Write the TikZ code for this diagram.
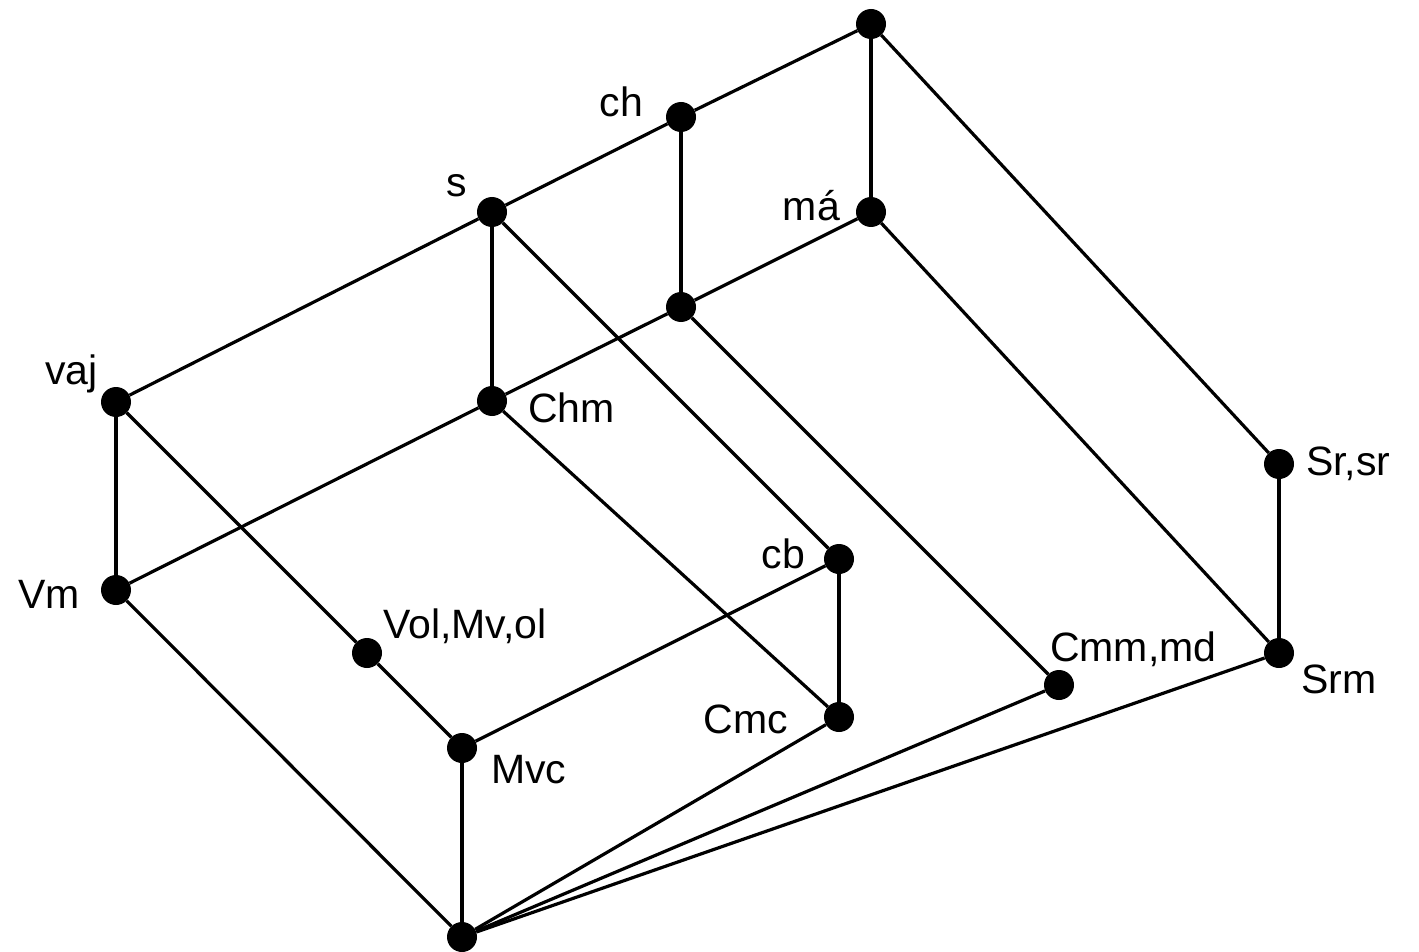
\documentclass[tikz,border=0pt]{standalone}
\usepackage{fontspec}
\setmainfont{Liberation Sans}
\begin{document}
\begin{tikzpicture}[x=1pt,y=-1pt,
  dot/.style={circle,fill=black,draw=none,minimum size=30pt,inner sep=0pt},
  edge/.style={line width=3.2pt,black},
  lbl/.style={inner sep=0pt,font=\fontsize{41}{49}\selectfont}]
\useasboundingbox (0,0) rectangle (1419,952);
% dots
\node[dot] (top) at (871,24) {};
\node[dot] (ch) at (681,117) {};
\node[dot] (s) at (492,212) {};
\node[dot] (ma) at (871,212) {};
\node[dot] (mid) at (681,307) {};
\node[dot] (vaj) at (116,402) {};
\node[dot] (Chm) at (492,401) {};
\node[dot] (Sr) at (1279,464) {};
\node[dot] (cb) at (839,559) {};
\node[dot] (Vm) at (116,590) {};
\node[dot] (Vol) at (367,653) {};
\node[dot] (Srm) at (1279,653) {};
\node[dot] (Cmm) at (1059,685) {};
\node[dot] (Cmc) at (839,717) {};
\node[dot] (Mvc) at (462,748) {};
\node[dot] (bot) at (462,937) {};
% edges
\draw[edge] (top) -- (ch);
\draw[edge] (ch) -- (s);
\draw[edge] (s) -- (vaj);
\draw[edge] (top) -- (ma);
\draw[edge] (top) -- (Sr);
\draw[edge] (ch) -- (mid);
\draw[edge] (s) -- (Chm);
\draw[edge] (s) -- (cb);
\draw[edge] (ma) -- (mid);
\draw[edge] (mid) -- (Chm);
\draw[edge] (Chm) -- (Vm);
\draw[edge] (ma) -- (Srm);
\draw[edge] (mid) -- (Cmm);
\draw[edge] (vaj) -- (Vm);
\draw[edge] (vaj) -- (Vol);
\draw[edge] (Chm) -- (Cmc);
\draw[edge] (Sr) -- (Srm);
\draw[edge] (cb) -- (Cmc);
\draw[edge] (cb) -- (Mvc);
\draw[edge] (Vm) -- (bot);
\draw[edge] (Vol) -- (Mvc);
\draw[edge] (Mvc) -- (bot);
\draw[edge] (Cmc) -- (bot);
\draw[edge] (Cmm) -- (bot);
\draw[edge] (Srm) -- (bot);
% labels
\node[lbl,anchor=base east] (lch) at (643,117) {ch};
\node[lbl,anchor=base east] (ls) at (467,197) {s};
\node[lbl,anchor=base east] (lma) at (840,221) {má};
\node[lbl,anchor=base east] (lvaj) at (98,384) {vaj};
\node[lbl,anchor=base west] (lChm) at (528,422) {Chm};
\node[lbl,anchor=base west] (lSr) at (1306,475) {Sr,sr};
\node[lbl,anchor=base east] (lcb) at (805,568) {cb};
\node[lbl,anchor=base east] (lVm) at (80,608) {Vm};
\node[lbl,anchor=base west] (lVol) at (383,638) {Vol,Mv,ol};
\node[lbl,anchor=base west] (lCmm) at (1050,661) {Cmm,md};
\node[lbl,anchor=base west] (lSrm) at (1301,693) {Srm};
\node[lbl,anchor=base east] (lCmc) at (788,733) {Cmc};
\node[lbl,anchor=base west] (lMvc) at (491,783) {Mvc};
\end{tikzpicture}
\end{document}
